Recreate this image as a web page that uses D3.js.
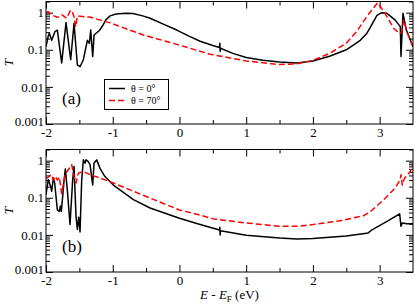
<!DOCTYPE html>
<html lang="en">
<head>
<meta charset="UTF-8">
<title>Transmission vs energy</title>
<script src="https://d3js.org/d3.v7.min.js"></script>
<style>
body {
  margin: 0;
  background: white;
}
svg text {
  font-family: "Liberation Serif", "DejaVu Serif", serif;
  fill: black;
}
.tick text {
  font-size: 13px;
}
.tick line {
  stroke: black;
}
</style>
</head>
<body>
<svg></svg>
<script>
// panel (a)
let aBlackE = [-2.00,-1.97,-1.95,-1.915,-1.865,-1.83,-1.765,-1.70,-1.63,-1.58,-1.53,-1.49,-1.44,-1.38,-1.35,-1.33,-1.30,-1.28,-1.20,-1.15,-1.10,-1.04,-0.95,-0.80,-0.70,-0.55,-0.44,-0.25,-0.04,0.15,0.31,0.50,0.600,0.605,0.610,0.615,0.80,1.00,1.25,1.50,1.76,2.00,2.25,2.50,2.71,2.81,2.86,2.96,3.03,3.11,3.23,3.31,3.32,3.35,3.40,3.50];
let aBlackT = [0.12,0.22,0.28,0.18,0.31,0.34,0.044,0.54,0.054,0.52,0.039,0.035,0.054,0.18,0.15,0.34,0.066,0.25,0.33,0.45,0.65,0.82,0.92,0.96,0.95,0.82,0.71,0.50,0.34,0.23,0.17,0.13,0.115,0.15,0.09,0.11,0.08,0.062,0.052,0.047,0.044,0.050,0.067,0.10,0.18,0.28,0.40,0.85,1.0,0.96,0.64,0.42,0.066,0.96,0.34,0.12];
let aRedE = [-2.00,-1.97,-1.93,-1.88,-1.83,-1.76,-1.69,-1.63,-1.60,-1.58,-1.555,-1.53,-1.43,-1.34,-1.20,-1.04,-0.54,-0.04,0.46,1.00,1.50,1.76,2.00,2.25,2.50,2.65,2.80,2.90,2.97,3.03,3.11,3.21,3.30,3.33,3.36,3.41,3.50];
let aRedT = [1.0,1.07,0.92,0.82,0.75,0.87,0.71,1.18,1.0,0.78,0.42,0.82,0.78,0.76,0.64,0.53,0.25,0.14,0.076,0.050,0.040,0.042,0.052,0.08,0.15,0.30,0.75,1.3,1.85,1.3,0.78,0.38,0.27,0.30,0.62,0.31,0.12];

// panel (b)
let bBlackE = [-2.00,-1.99,-1.965,-1.93,-1.915,-1.89,-1.87,-1.83,-1.80,-1.785,-1.77,-1.73,-1.71,-1.68,-1.64,-1.60,-1.58,-1.55,-1.53,-1.51,-1.49,-1.465,-1.44,-1.415,-1.40,-1.37,-1.34,-1.30,-1.28,-1.24,-1.19,-1.12,-0.99,-0.69,-0.44,0.00,0.31,0.600,0.605,0.610,0.615,1.00,1.50,1.76,2.00,2.50,2.83,2.88,3.11,3.30,3.32,3.34,3.41,3.50];
let bBlackT = [0.12,0.16,0.31,0.20,0.15,0.34,0.25,0.047,0.043,0.06,0.043,0.28,0.60,0.16,0.019,0.31,0.70,0.031,0.014,0.03,0.012,0.3,1.06,0.85,1.06,0.96,0.78,0.22,0.87,1.05,0.62,0.38,0.22,0.089,0.053,0.028,0.019,0.0135,0.016,0.010,0.013,0.0098,0.0082,0.0078,0.0080,0.0094,0.0113,0.0135,0.023,0.037,0.017,0.021,0.020,0.020];
let bRedE = [-2.00,-1.95,-1.915,-1.89,-1.86,-1.83,-1.80,-1.765,-1.715,-1.665,-1.615,-1.58,-1.55,-1.515,-1.44,-1.34,-1.19,-0.99,-0.69,-0.44,0.00,0.31,0.51,1.00,1.50,1.76,2.00,2.41,2.76,2.86,3.06,3.23,3.31,3.32,3.34,3.37,3.46,3.50];
let bRedT = [0.33,0.38,0.42,0.30,0.38,0.30,0.36,0.13,0.42,0.57,0.78,0.38,0.25,0.46,0.51,0.42,0.34,0.25,0.15,0.098,0.047,0.034,0.027,0.021,0.017,0.017,0.019,0.024,0.033,0.042,0.089,0.18,0.31,0.42,0.22,0.33,0.51,0.80];

let xTicks = [-2, -1, 0, 1, 2, 3];
let xMinorTicks = [-1.5, -0.5, 0.5, 1.5, 2.5];
let yTicks = [0.001, 0.01, 0.1, 1];
let yTickLabels = ["0.001", "0.01", "0.1", "1"];
let legendLabels = ["θ = 0°", "θ = 70°"];
let panelLabels = ["(a)", "(b)"];

let width = 415;
let height = 306;
let left = 46, right = 413;

let svg = d3.select("svg")
  .attr("width", width)
  .attr("height", height);

let x = d3.scaleLinear()
  .domain([-2, 3.5])
  .range([left, right]);

// minor log ticks 2..9 in each decade
let yMinor = [];
yTicks.forEach(d => {
  for (let k = 2; k <= 9; k++) {
    if (d * k <= 2) yMinor.push(d * k);
  }
});

function drawPanel(top, bottom, idx, series) {
  let y = d3.scaleLog()
    .domain([0.001, 2])
    .range([bottom, top]);

  let g = svg.append("g");

  // bottom axis
  g.append("g")
    .attr("transform", "translate(0," + bottom + ")")
    .call(d3.axisBottom(x).tickValues(xTicks).tickSize(-7).tickPadding(4)
      .tickFormat(d => d < 0 ? "-" + Math.abs(d) : d))
    .call(a => a.select(".domain").remove());
  g.append("g")
    .attr("transform", "translate(0," + bottom + ")")
    .call(d3.axisBottom(x).tickValues(xMinorTicks).tickSize(-4).tickFormat(""))
    .call(a => a.select(".domain").remove());
  // top axis
  g.append("g")
    .attr("transform", "translate(0," + top + ")")
    .call(d3.axisTop(x).tickValues(xTicks).tickSize(-7).tickFormat(""))
    .call(a => a.select(".domain").remove());
  g.append("g")
    .attr("transform", "translate(0," + top + ")")
    .call(d3.axisTop(x).tickValues(xMinorTicks).tickSize(-4).tickFormat(""))
    .call(a => a.select(".domain").remove());
  // left axis
  g.append("g")
    .attr("transform", "translate(" + left + ",0)")
    .call(d3.axisLeft(y).tickValues(yTicks).tickSize(-7).tickPadding(2)
      .tickFormat((d, i) => yTickLabels[i]))
    .call(a => a.select(".domain").remove())
    .call(a => a.selectAll(".tick text").filter(d => d === 0.001).attr("y", -3));
  g.append("g")
    .attr("transform", "translate(" + left + ",0)")
    .call(d3.axisLeft(y).tickValues(yMinor).tickSize(-4).tickFormat(""))
    .call(a => a.select(".domain").remove());
  // right axis
  g.append("g")
    .attr("transform", "translate(" + right + ",0)")
    .call(d3.axisRight(y).tickValues(yTicks).tickSize(-7).tickFormat(""))
    .call(a => a.select(".domain").remove());
  g.append("g")
    .attr("transform", "translate(" + right + ",0)")
    .call(d3.axisRight(y).tickValues(yMinor).tickSize(-4).tickFormat(""))
    .call(a => a.select(".domain").remove());

  g.append("clipPath")
    .attr("id", "clip" + idx)
    .append("rect")
    .attr("x", left)
    .attr("y", top)
    .attr("width", right - left)
    .attr("height", bottom - top);

  let line = d3.line()
    .x(d => x(d[0]))
    .y(d => y(d[1]));

  let plot = g.append("g").attr("clip-path", "url(#clip" + idx + ")");
  series.forEach(s => {
    plot.append("path")
      .attr("d", line(d3.zip(s.e, s.t)))
      .attr("fill", "none")
      .attr("stroke", s.color)
      .attr("stroke-width", 1.5)
      .attr("stroke-dasharray", s.dash)
      .attr("stroke-linejoin", "round");
  });

  // frame
  g.append("rect")
    .attr("x", left)
    .attr("y", top)
    .attr("width", right - left)
    .attr("height", bottom - top)
    .attr("fill", "none")
    .attr("stroke", "black")
    .attr("stroke-width", 1);

  // y label
  g.append("text")
    .attr("transform", "translate(13," + ((top + bottom) / 2) + ") rotate(-90)")
    .attr("text-anchor", "middle")
    .style("font-size", "13px")
    .style("font-style", "italic")
    .text("T");

  // panel label
  g.append("text")
    .attr("x", 62)
    .attr("y", bottom - 20)
    .style("font-size", "17px")
    .text(panelLabels[idx]);

  return y;
}

let seriesA = [
  {e: aBlackE, t: aBlackT, color: "black", dash: null},
  {e: aRedE, t: aRedT, color: "red", dash: "6,3"}
];
let seriesB = [
  {e: bBlackE, t: bBlackT, color: "black", dash: null},
  {e: bRedE, t: bRedT, color: "red", dash: "6,3"}
];

drawPanel(1.5, 124, 0, seriesA);
drawPanel(149.5, 272, 1, seriesB);

// legend
let legend = svg.append("g");
legend.append("rect")
  .attr("x", 104.5)
  .attr("y", 79.5)
  .attr("width", 64)
  .attr("height", 30)
  .attr("fill", "white")
  .attr("stroke", "black")
  .attr("stroke-width", 1);
seriesA.forEach((s, i) => {
  let ly = 88.5 + i * 12;
  legend.append("line")
    .attr("x1", 109)
    .attr("x2", 125)
    .attr("y1", ly)
    .attr("y2", ly)
    .attr("stroke", s.color)
    .attr("stroke-width", 1.5)
    .attr("stroke-dasharray", s.dash);
  legend.append("text")
    .attr("x", 131)
    .attr("y", ly + 3.5)
    .style("font-size", "10px")
    .text(legendLabels[i]);
});

// x axis title
let title = svg.append("text")
  .attr("x", (left + right) / 2)
  .attr("y", 299)
  .attr("text-anchor", "middle")
  .style("font-size", "13px");
title.append("tspan").style("font-style", "italic").text("E");
title.append("tspan").text(" - ");
title.append("tspan").style("font-style", "italic").text("E");
title.append("tspan").attr("dy", 3).style("font-size", "9px").text("F");
title.append("tspan").attr("dy", -3).text(" (eV)");
</script>
</body>
</html>
